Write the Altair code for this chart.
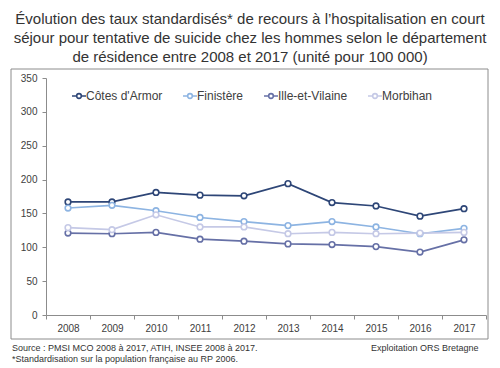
import altair as alt
import pandas as pd

years = ["2008", "2009", "2010", "2011", "2012", "2013", "2014", "2015", "2016", "2017"]
series = ["Côtes d'Armor", "Finistère", "Ille-et-Vilaine", "Morbihan"]
cotes = [167, 167, 181, 177, 176, 194, 166, 161, 146, 157]
finistere = [158, 162, 154, 144, 138, 132, 138, 130, 120, 128]
ille = [121, 120, 122, 112, 109, 105, 104, 101, 93, 111]
morbihan = [129, 126, 148, 130, 130, 120, 122, 120, 121, 122]
colors = ["#2E4677", "#8DB4E2", "#6670A6", "#C5C9E6"]
y_ticks = [0, 50, 100, 150, 200, 250, 300, 350]

title_lines = [
    "Évolution des taux standardisés* de recours à l’hospitalisation en court",
    "séjour pour tentative de suicide chez les hommes selon le département",
    "de résidence entre 2008 et 2017  (unité pour 100 000)",
]
note_source = "Source : PMSI MCO 2008 à 2017, ATIH, INSEE 2008 à 2017."
note_std = "*Standardisation sur la population française au RP 2006."
note_expl = "Exploitation ORS Bretagne"

rows = []
for name, vals in zip(series, [cotes, finistere, ille, morbihan]):
    for yr, v in zip(years, vals):
        rows.append({"annee": yr, "departement": name, "taux": v})
df = pd.DataFrame(rows)

FONT = "Liberation Sans"
sym_path = "M-1.5,0H-0.5M0.5,0H1.5M-0.5,0A0.5,0.5,0,1,0,0.5,0A0.5,0.5,0,1,0,-0.5,0"

x_enc = alt.X("annee:O", bandPosition=0.5,
              scale=alt.Scale(type="band", paddingInner=0, paddingOuter=0),
              axis=alt.Axis(title=None, labelAngle=0, tickBand="extent", tickSize=4,
                            labelPadding=4, labelFontSize=10, labelFont=FONT,
                            labelColor="#404040", domainColor="#8c8c8c", tickColor="#8c8c8c",
                            grid=False))
y_enc = alt.Y("taux:Q", scale=alt.Scale(domain=[0, 350], nice=False),
              axis=alt.Axis(title=None, values=y_ticks, tickSize=4, labelPadding=5,
                            labelFontSize=10, labelFont=FONT, labelColor="#404040",
                            domainColor="#8c8c8c", tickColor="#8c8c8c", grid=False))
legend = alt.Legend(title=None, orient="none", direction="horizontal",
                    legendX=27, legendY=12, padding=0,
                    symbolType=sym_path, symbolSize=87,
                    symbolFillColor="white", symbolStrokeWidth=1.6,
                    labelFont=FONT, labelFontSize=12, labelColor="#404040",
                    labelOffset=1, columnPadding=16)
c_enc = alt.Color("departement:N", sort=series,
                  scale=alt.Scale(domain=series, range=colors), legend=legend)

lines = alt.Chart(df).mark_line(strokeWidth=1.7).encode(x=x_enc, y=y_enc, color=c_enc)
points = alt.Chart(df).mark_point(filled=False, fill="white", fillOpacity=1, size=32,
                                  strokeWidth=1.6, opacity=1).encode(
    x=x_enc, y=y_enc, color=c_enc)

one = alt.Data(values=[{}])
frame = alt.Chart(one).mark_rect(filled=False, stroke="#8c8c8c", strokeWidth=1).encode(
    x=alt.value(-35), x2=alt.value(442), y=alt.value(-9), y2=alt.value(261)
)
t1 = alt.Chart(one).mark_text(align="left", baseline="middle", font=FONT, fontSize=9,
                              color="#333333").encode(
    x=alt.value(-34), y=alt.value(270), text=alt.value(note_source))
t2 = alt.Chart(one).mark_text(align="left", baseline="middle", font=FONT, fontSize=9,
                              color="#333333").encode(
    x=alt.value(-34), y=alt.value(281), text=alt.value(note_std))
t3 = alt.Chart(one).mark_text(align="left", baseline="middle", font=FONT, fontSize=9,
                              color="#333333").encode(
    x=alt.value(325), y=alt.value(270), text=alt.value(note_expl))

chart = alt.layer(frame, lines, points, t1, t2, t3).properties(
    width=440, height=237,
    autosize=alt.AutoSizeParams(type="none"),
    padding={"left": 38, "top": 70, "right": 6, "bottom": 53},
    title=alt.TitleParams(text=title_lines, font=FONT, fontSize=15, fontWeight="normal",
                          color="#333333", anchor="middle", frame="group", dx=-16,
                          lineHeight=19, offset=4),
).configure_view(stroke=None)

chart.save("out.html", embed_options={"renderer": "svg", "actions": False})
